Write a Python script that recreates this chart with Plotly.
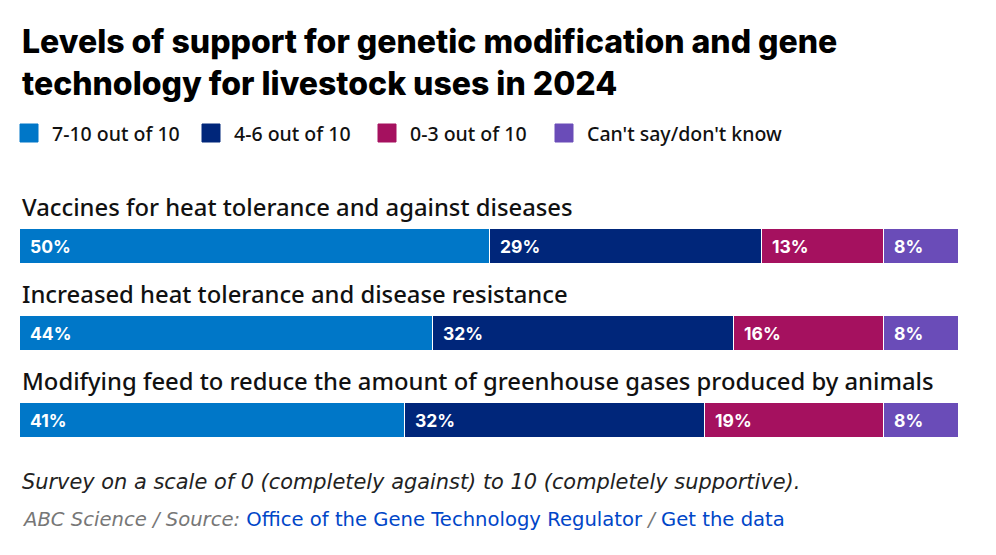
import plotly.graph_objects as go

categories = [
    "Vaccines for heat tolerance and against diseases",
    "Increased heat tolerance and disease resistance",
    "Modifying feed to reduce the amount of greenhouse gases produced by animals",
]
series_names = ["7-10 out of 10", "4-6 out of 10", "0-3 out of 10", "Can't say/don't know"]
high = [50, 44, 41]
mid = [29, 32, 32]
low = [13, 16, 19]
dont_know = [8, 8, 8]
series_values = [high, mid, low, dont_know]
colors = ["#0077C8", "#00267A", "#A5115F", "#6A4CB8"]

W, H = 996, 555
X0, X1 = 20, 959

fig = go.Figure()
for name, vals, col in zip(series_names, series_values, colors):
    fig.add_trace(go.Bar(
        x=vals, y=categories, orientation="h", name=name,
        marker=dict(color=col, line=dict(color="white", width=1)),
        width=0.4, showlegend=False, hoverinfo="x+name",
    ))

annotations = []
# percentage labels
for ci, cat in enumerate(categories):
    cum = 0
    for vals in series_values:
        v = vals[ci]
        annotations.append(dict(
            x=cum, y=cat, xref="x", yref="y", text=f"<b>{v}%</b>",
            showarrow=False, xanchor="left", yanchor="middle", xshift=8,
            font=dict(family="Inter", size=17.5, color="white", weight=800),
        ))
        cum += v
    # category label
    annotations.append(dict(
        x=X0 / W, y=cat, xref="paper", yref="y", text=cat,
        showarrow=False, xanchor="left", yanchor="middle", yshift=40,
        font=dict(family="Noto Sans", size=23.8, color="#111111", weight=500),
    ))

# legend (manual)
legend_x = [20, 202, 378, 555]
shapes = []
for lx, name, col in zip(legend_x, series_names, colors):
    shapes.append(dict(
        type="rect", xref="paper", yref="paper",
        x0=lx / W, x1=(lx + 18) / W, y0=1 - 142 / H, y1=1 - 124 / H,
        fillcolor=col, line=dict(color=col, width=1),
    ))
    annotations.append(dict(
        x=(lx + 30) / W, y=1 - 133 / H, xref="paper", yref="paper", text=name,
        showarrow=False, xanchor="left", yanchor="middle",
        font=dict(family="Noto Sans", size=19.5, color="#111111", weight=500),
    ))

# title
annotations.append(dict(
    x=X0 / W, y=1 - 20 / H, xref="paper", yref="paper",
    text="Levels of support for genetic modification and gene<br>technology for livestock uses in 2024",
    showarrow=False, xanchor="left", yanchor="top", align="left",
    font=dict(family="Inter", size=32, color="#000000", weight=800),
))

# footer
annotations.append(dict(
    x=X0 / W, y=1 - 482 / H, xref="paper", yref="paper",
    text="<i>Survey on a scale of 0 (completely against) to 10 (completely supportive).</i>",
    showarrow=False, xanchor="left", yanchor="middle",
    font=dict(family="DejaVu Sans", size=20.9, color="#222222"),
))
annotations.append(dict(
    x=X0 / W, y=1 - 519 / H, xref="paper", yref="paper",
    text="<i>ABC Science / Source:</i> <span style='color:#0046C8'>Office of the Gene Technology Regulator</span> "
         "<i>/</i> <span style='color:#0046C8'>Get the data</span>",
    showarrow=False, xanchor="left", yanchor="middle",
    font=dict(family="DejaVu Sans", size=19.6, color="#777777"),
))

top_px, bot_px = 203, 464
fig.update_layout(
    width=W, height=H, margin=dict(l=0, r=0, t=0, b=0),
    paper_bgcolor="white", plot_bgcolor="white",
    barmode="stack", bargap=0,
    xaxis=dict(range=[0, 100], domain=[X0 / W, X1 / W], visible=False, fixedrange=True),
    yaxis=dict(type="category", range=[2.5, -0.5], domain=[1 - bot_px / H, 1 - top_px / H],
               visible=False, fixedrange=True),
    annotations=annotations, shapes=shapes,
)

fig.write_html("out.html")
